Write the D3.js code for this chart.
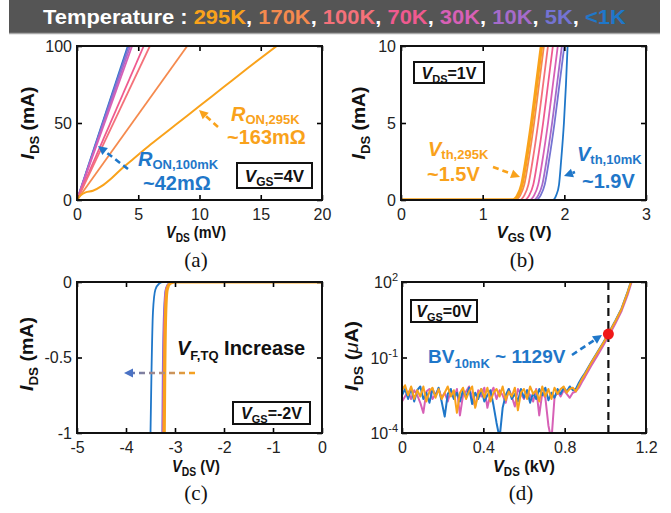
<!DOCTYPE html>
<html><head><meta charset="utf-8">
<script src="https://cdn.jsdelivr.net/npm/d3@7"></script>
<style>body{margin:0;background:#fff}svg{display:block}text{white-space:pre}</style>
</head><body>
<svg id="c" width="671" height="513"></svg>
<script>
// ---------- data ----------
const temps  = ["295K","170K","100K","70K","30K","10K","5K","<1K"];
const colors = ["#F9A21B","#F58A4E","#F4717A","#EF5A8F","#D760B6","#A56BCA","#7473D2","#1F77C9"];

// (a) I-V at VGS=4V (mV, mA)
const aVds295 = [0,0.3,0.7,1.3,2.0,2.8,3.6,4.5,6,8,10,12,14,16.3];
const aIds295 = [0,3,5,6,9,14,20,26,36,48.5,61,73.5,86,100];
const aVdsAt100mA = [null,9.0,5.95,5.45,4.5,4.35,4.22,4.15]; // other temps: straight lines to 100 mA
const aXTicks=[0,5,10,15,20], aXLab=["0","5","10","15","20"];
const aYTicks=[0,50,100], aYLab=["0","50","100"];

// (b) transfer at VDS=1V (V, mA)
const bIds = [0,0,0.3,1,2.5,5,7.5,10];
const bVgs = [
  [0,1.37,1.43,1.48,1.53,1.60,1.66,1.72],
  [0,1.40,1.46,1.51,1.56,1.63,1.69,1.75],
  [0,1.45,1.51,1.56,1.61,1.68,1.74,1.80],
  [0,1.51,1.57,1.62,1.67,1.74,1.80,1.86],
  [0,1.57,1.63,1.68,1.73,1.80,1.86,1.92],
  [0,1.62,1.68,1.73,1.78,1.85,1.91,1.97],
  [0,1.65,1.71,1.76,1.81,1.88,1.94,2.00],
  [0,1.86,1.90,1.935,1.96,1.995,2.02,2.04]
];
const bXTicks=[0,1,2,3], bXLab=["0","1","2","3"];
const bYTicks=[0,5,10], bYLab=["0","5","10"];

// (c) reverse conduction at VGS=-2V (V, mA)
const cIds = [0,0,-0.01,-0.05,-0.2,-0.6,-1];
const cVds = [
  [0,-3.00,-3.10,-3.16,-3.19,-3.21,-3.22],
  [0,-3.00,-3.10,-3.165,-3.195,-3.215,-3.225],
  [0,-3.01,-3.11,-3.17,-3.20,-3.22,-3.23],
  [0,-3.01,-3.11,-3.175,-3.205,-3.225,-3.235],
  [0,-3.02,-3.12,-3.18,-3.21,-3.23,-3.24],
  [0,-3.02,-3.12,-3.185,-3.215,-3.24,-3.25],
  [0,-3.03,-3.13,-3.19,-3.225,-3.25,-3.26],
  [0,-3.25,-3.32,-3.40,-3.45,-3.48,-3.50]
];
const cXTicks=[-5,-4,-3,-2,-1,0], cXLab=["-5","-4","-3","-2","-1","0"];
const cYTicks=[-1,-0.5,0], cYLab=["-1","-0.5","0"];

// (d) off-state at VGS=0V (kV, log10 of uA)
const dVnoise = [0,.015,.03,.045,.06,.075,.09,.105,.12,.135,.15,.165,.18,.195,.21,.225,.24,.255,.27,.285,.3,.315,.33,.345,.36,.375,.39,.405,.42,.435,.45,.465,.48,.495,.51,.525,.54,.555,.57,.585,.6,.615,.63,.645,.66,.675,.69,.705,.72,.735,.75,.765,.78,.795,.81,.825,.84];
const dVrise  = [0.855,0.87,0.885,0.9,0.93,0.96,0.99,1.02,1.05,1.08,1.11,1.14];
const dPinkLog   = [-2.75,-2.55,-2.35,-2.65,-2.3,-2.5,-2.8,-3.2,-2.35,-2.25,-2.65,-2.45,-2.25,-2.6,-2.4,-2.75,-2.3,-2.6,-2.25,-3.3,-2.5,-2.35,-2.15,-2.6,-2.95,-2.3,-2.55,-2.2,-3.0,-2.45,-2.2,-2.65,-2.3,-2.5,-2.8,-2.25,-2.55,-2.95,-2.25,-2.45,-2.65,-2.3,-2.5,-2.75,-2.25,-3.3,-2.4,-2.6,-3.7,-4.3,-2.6,-2.35,-2.55,-2.3,-2.45,-2.6,-2.4];
const dBlueLog   = [-2.5,-2.25,-2.65,-2.2,-2.75,-2.3,-2.15,-2.65,-2.4,-2.8,-2.25,-2.55,-2.2,-2.75,-3.35,-2.45,-2.25,-2.65,-2.4,-2.75,-2.3,-2.6,-2.2,-2.85,-2.4,-2.65,-2.25,-2.75,-2.5,-2.3,-2.9,-3.6,-4.2,-3.0,-2.5,-2.25,-2.65,-2.45,-2.75,-2.25,-2.6,-2.3,-2.8,-2.4,-2.65,-2.25,-2.5,-2.2,-2.7,-2.4,-2.6,-2.25,-2.45,-2.2,-2.35,-2.15,-2.3];
const dOrangeLog = [-2.3,-2.1,-2.5,-2.15,-2.65,-2.3,-2.55,-2.15,-2.75,-2.35,-2.2,-2.6,-2.25,-2.65,-2.4,-2.15,-2.55,-2.3,-3.2,-2.4,-2.2,-2.65,-2.35,-2.15,-3.0,-2.45,-2.25,-2.6,-2.2,-2.75,-2.4,-2.25,-2.55,-2.15,-2.7,-2.35,-2.55,-2.2,-3.1,-2.4,-2.25,-2.65,-2.15,-2.45,-2.3,-2.75,-2.15,-2.55,-2.25,-2.65,-2.2,-2.45,-2.25,-2.15,-2.4,-2.25,-2.2];
const dPinkRise   = [-2.35,-2.2,-1.97,-1.77,-1.34,-0.94,-0.52,-0.1,0.36,0.85,1.5,2.28];
const dBlueRise   = [-2.25,-2.0,-1.8,-1.62,-1.2,-0.8,-0.4,0.02,0.47,0.95,1.62,2.36];
const dOrangeRise = [-2.35,-2.1,-1.86,-1.66,-1.22,-0.82,-0.42,0,0.45,0.93,1.6,2.34];
const dBV = 1.015, dBVcurrent = 0.85;
const dXTicks=[0,0.4,0.8,1.2], dXLab=["0","0.4","0.8","1.2"];
const dYTicks=[1e-4,1e-1,1e2], dYExp=["-4","-1","2"];

// ---------- drawing ----------
const FONT = "'Liberation Sans', Arial, Helvetica, sans-serif";
const SERIF = "'Liberation Serif', 'Times New Roman', serif";
const svg = d3.select("#c");

function rich(parent, x, y, parts, color, anchor, transform){
  const t = parent.append("text").attr("x",x).attr("y",y)
    .attr("font-family",FONT).attr("font-weight","bold")
    .attr("fill",color||"#000").attr("text-anchor",anchor||"start");
  if (transform) t.attr("transform",transform);
  let shift=0;
  parts.forEach(p=>{
    const ts=t.append("tspan").text(p.t).attr("font-size",p.s);
    if(p.it) ts.attr("font-style","italic");
    if(p.w) ts.attr("font-weight",p.w);
    const target=p.dy||0;
    if(target-shift!==0) ts.attr("dy",target-shift);
    shift=target;
  });
  return t;
}

function arrow(parent,x1,y1,x2,y2,color,headColor){
  const dx=x2-x1, dy=y2-y1, L=Math.hypot(dx,dy), ux=dx/L, uy=dy/L;
  const hl=9, hw=4.5;
  const bx=x2-ux*hl, by=y2-uy*hl;
  parent.append("line").attr("x1",x1).attr("y1",y1).attr("x2",bx).attr("y2",by)
    .attr("stroke",color).attr("stroke-width",2.6).attr("stroke-dasharray","6,4");
  parent.append("path").attr("d",`M${x2},${y2}L${bx-uy*hw},${by+ux*hw}L${bx+uy*hw},${by-ux*hw}Z`)
    .attr("fill",headColor||color);
}

function panel(p, x, y, xt, xl, yt, yl, id, drawData, customY){
  svg.append("clipPath").attr("id",id).append("rect").attr("x",p.l).attr("y",p.t).attr("width",p.w).attr("height",p.h);
  const data = svg.append("g").attr("clip-path",`url(#${id})`).append("g").attr("transform",`translate(${p.l},${p.t})`);
  drawData(data);
  const ax = svg.append("g").attr("transform",`translate(${p.l},${p.t})`);
  ax.append("g").attr("transform",`translate(0,${p.h})`)
    .call(d3.axisBottom(x).tickValues(xt).tickFormat((d,i)=>xl[i]).tickSizeInner(-5).tickSizeOuter(0).tickPadding(9));
  ax.append("g").call(d3.axisTop(x).tickValues(xt).tickFormat("").tickSizeInner(-5).tickSizeOuter(0));
  ax.append("g").call(d3.axisLeft(y).tickValues(yt).tickFormat(customY?"":(d,i)=>yl[i]).tickSizeInner(-5).tickSizeOuter(0).tickPadding(5));
  ax.append("g").attr("transform",`translate(${p.w},0)`)
    .call(d3.axisRight(y).tickValues(yt).tickFormat("").tickSizeInner(-5).tickSizeOuter(0));
  ax.selectAll(".domain").remove();
  ax.selectAll(".tick line").attr("stroke","#000").attr("stroke-width",1.6);
  ax.selectAll(".tick text").attr("font-family",FONT).attr("font-size",16).attr("fill","#222");
  ax.append("rect").attr("width",p.w).attr("height",p.h).attr("fill","none").attr("stroke","#111").attr("stroke-width",2);
  return ax;
}

function box(x,y,w,h,parts){
  svg.append("rect").attr("x",x).attr("y",y).attr("width",w).attr("height",h)
    .attr("fill","#fff").attr("stroke","#111").attr("stroke-width",2);
  rich(svg,x+w/2,y+h/2+6,parts,"#111","middle");
}

// title bar
svg.append("rect").attr("x",9).attr("y",0).attr("width",651).attr("height",33).attr("fill","#555555");
svg.append("line").attr("x1",9).attr("x2",660).attr("y1",33.5).attr("y2",33.5).attr("stroke","#a8a8a8").attr("stroke-width",1.5);
const title = svg.append("text").attr("font-family",FONT).attr("font-weight","bold").attr("font-size",20.5);
title.append("tspan").text("Temperature : ").attr("fill","#fff");
temps.forEach((t,i)=>{
  title.append("tspan").text(t).attr("fill",colors[i]);
  if(i<temps.length-1) title.append("tspan").text(", ").attr("fill","#fff");
});
const tw = title.node().getComputedTextLength();
title.attr("transform",`translate(43,24) scale(${583/tw},1)`);

// ----- (a)
const A={l:77,t:46,w:245,h:154};
const ax_=d3.scaleLinear().domain([0,20]).range([0,A.w]);
const ay_=d3.scaleLinear().domain([0,100]).range([A.h,0]);
panel(A,ax_,ay_,aXTicks,aXLab,aYTicks,aYLab,"clipA",g=>{
  const line=d3.line().x(d=>ax_(d[0])).y(d=>ay_(d[1]));
  for(let i=aVdsAt100mA.length-1;i>=1;i--){
    g.append("path").attr("d",line([[0,0],[aVdsAt100mA[i],100]])).attr("fill","none")
      .attr("stroke",colors[i]).attr("stroke-width",1.8);
  }
  g.append("path").attr("d",d3.line().x(d=>ax_(d[0])).y(d=>ay_(d[1])).curve(d3.curveMonotoneX)(aVds295.map((v,k)=>[v,aIds295[k]])))
    .attr("fill","none").attr("stroke",colors[0]).attr("stroke-width",2);
});

// ----- (b)
const B={l:401,t:46,w:245,h:154};
const bx_=d3.scaleLinear().domain([0,3]).range([0,B.w]);
const by_=d3.scaleLinear().domain([0,10]).range([B.h,0]);
panel(B,bx_,by_,bXTicks,bXLab,bYTicks,bYLab,"clipB",g=>{
  const line=d3.line().x(d=>bx_(d[0])).y(d=>by_(d[1])).curve(d3.curveMonotoneX);
  for(let i=bVgs.length-1;i>=0;i--){
    g.append("path").attr("d",line(bVgs[i].map((v,k)=>[v,bIds[k]]))).attr("fill","none")
      .attr("stroke",colors[i]).attr("stroke-width",i===0?3.4:1.8);
  }
});

// ----- (c)
const C={l:77,t:282,w:245,h:151};
const cx_=d3.scaleLinear().domain([-5,0]).range([0,C.w]);
const cy_=d3.scaleLinear().domain([-1,0]).range([C.h,0]);
panel(C,cx_,cy_,cXTicks,cXLab,cYTicks,cYLab,"clipC",g=>{
  const line=d3.line().x(d=>cx_(d[0])).y(d=>cy_(d[1])).curve(d3.curveMonotoneX);
  for(let i=cVds.length-1;i>=0;i--){
    const pts=cVds[i].map((v,k)=>[v,cIds[k]]).reverse();
    g.append("path").attr("d",line(pts)).attr("fill","none")
      .attr("stroke",colors[i]).attr("stroke-width",i===0?3.2:1.8);
  }
});

// ----- (d)
const D={l:402,t:282,w:244,h:151};
const dx_=d3.scaleLinear().domain([0,1.2]).range([0,D.w]);
const dy_=d3.scaleLog().domain([1e-4,1e2]).range([D.h,0]);
const dAx=panel(D,dx_,dy_,dXTicks,dXLab,dYTicks,[],"clipD",g=>{
  const line=d3.line().x(d=>dx_(d[0])).y(d=>dy_(Math.pow(10,d[1])));
  const series=[[dPinkLog,dPinkRise,colors[4]],[dBlueLog,dBlueRise,colors[7]],[dOrangeLog,dOrangeRise,colors[0]]];
  series.forEach(([n,r,c])=>{
    const pts=dVnoise.map((v,k)=>[v,n[k]]).concat(dVrise.map((v,k)=>[v,r[k]]));
    g.append("path").attr("d",line(pts)).attr("fill","none").attr("stroke",c).attr("stroke-width",2).attr("stroke-linejoin","round");
  });
  g.append("line").attr("x1",dx_(dBV)).attr("x2",dx_(dBV)).attr("y1",0).attr("y2",D.h)
    .attr("stroke","#111").attr("stroke-width",2.2).attr("stroke-dasharray","8,5");
  g.append("circle").attr("cx",dx_(dBV)).attr("cy",dy_(dBVcurrent)).attr("r",5.5).attr("fill","#F01818");
},true);
dYTicks.forEach((v,i)=>{
  const t=dAx.append("text").attr("x",-4).attr("y",dy_(v)+6).attr("text-anchor","end")
    .attr("font-family",FONT).attr("font-size",16).attr("fill","#222");
  t.append("tspan").text("10");
  t.append("tspan").text(dYExp[i]).attr("font-size",11).attr("dy",-7);
});

// ----- axis labels (fitted to the reference widths)
function xLabel(cx,y,parts,W){
  const t=rich(svg,cx,y,parts,"#111","middle");
  const s=W/t.node().getComputedTextLength();
  t.attr("transform",`translate(${cx},0) scale(${s},1) translate(${-cx},0)`);
}
function yLabel(x,cy,parts,W){
  const t=rich(svg,0,0,parts,"#111","middle");
  const s=W/t.node().getComputedTextLength();
  t.attr("transform",`translate(${x},${cy}) rotate(-90) scale(${s},1)`);
}
const iMA=[{t:"I",s:19,it:1},{t:"DS",s:13,dy:5},{t:" (mA)",s:19}];
xLabel(196,238,[{t:"V",s:17,it:1},{t:"DS",s:12,dy:4},{t:" (mV)",s:17}],60);
yLabel(34,123,iMA,73);
xLabel(524,238,[{t:"V",s:17,it:1},{t:"GS",s:12,dy:4},{t:" (V)",s:17}],55);
yLabel(365,123,iMA,73);
xLabel(196,472,[{t:"V",s:17,it:1},{t:"DS",s:12,dy:4},{t:" (V)",s:17}],48);
yLabel(33,354,iMA,74);
xLabel(524,472,[{t:"V",s:17,it:1},{t:"DS",s:12,dy:4},{t:" (kV)",s:17}],62);
yLabel(358,356,[{t:"I",s:19,it:1},{t:"DS",s:13,dy:5},{t:" (",s:19},{t:"μ",s:19,it:1,w:"normal"},{t:"A)",s:19}],70);

[["(a)",196,267],["(b)",522,267],["(c)",196,500],["(d)",521,500]].forEach(([t,x,y])=>{
  svg.append("text").attr("x",x).attr("y",y).attr("text-anchor","middle").attr("font-family",SERIF)
    .attr("font-size",21).attr("fill","#111").text(t);
});

// ----- annotations
// (a)
arrow(svg,218,127,199,110,colors[0]);
arrow(svg,128,169,98,146,colors[7]);
rich(svg,231,121,[{t:"R",s:20,it:1},{t:"ON,295K",s:13,dy:3}],colors[0]);
rich(svg,227,144,[{t:"~163mΩ",s:20}],colors[0]);
rich(svg,138,166,[{t:"R",s:20,it:1},{t:"ON,100mK",s:13,dy:3}],colors[7]);
rich(svg,143,190,[{t:"~42mΩ",s:20}],colors[7]);
box(237,163,75,25,[{t:"V",s:17,it:1},{t:"GS",s:12,dy:4},{t:"=4V",s:17}]);
// (b)
box(414,62,70,21,[{t:"V",s:16,it:1},{t:"DS",s:11,dy:4},{t:"=1V",s:16}]);
arrow(svg,493,167,520,177,colors[0]);
arrow(svg,575,172,564,176,colors[7]);
rich(svg,428,156,[{t:"V",s:20,it:1},{t:"th,295K",s:13,dy:3}],colors[0]);
rich(svg,427,181,[{t:"~1.5V",s:20}],colors[0]);
rich(svg,577,161,[{t:"V",s:20,it:1},{t:"th,10mK",s:13,dy:3}],colors[7]);
rich(svg,582,188,[{t:"~1.9V",s:20}],colors[7]);
// (c)
const grad=svg.append("defs").append("linearGradient").attr("id","gArr").attr("gradientUnits","userSpaceOnUse")
  .attr("x1",195).attr("x2",124).attr("y1",0).attr("y2",0);
grad.append("stop").attr("offset","0%").attr("stop-color",colors[0]);
grad.append("stop").attr("offset","50%").attr("stop-color","#B08C80");
grad.append("stop").attr("offset","100%").attr("stop-color","#4A72C4");
arrow(svg,195,373,124,373,"url(#gArr)","#4A72C4");
rich(svg,177,355,[{t:"V",s:20,it:1},{t:"F,TQ",s:13,dy:5},{t:" Increase",s:20}],"#111");
box(233,402,77,22,[{t:"V",s:16,it:1},{t:"GS",s:11,dy:4},{t:"=-2V",s:16}]);
// (d)
box(411,300,66,22,[{t:"V",s:16,it:1},{t:"GS",s:11,dy:4},{t:"=0V",s:16}]);
arrow(svg,572,355,602,335,colors[7]);
rich(svg,428,363,[{t:"BV",s:19},{t:"10mK",s:13,dy:5},{t:" ~ 1129V",s:19}],colors[7]);
</script>
</body></html>
